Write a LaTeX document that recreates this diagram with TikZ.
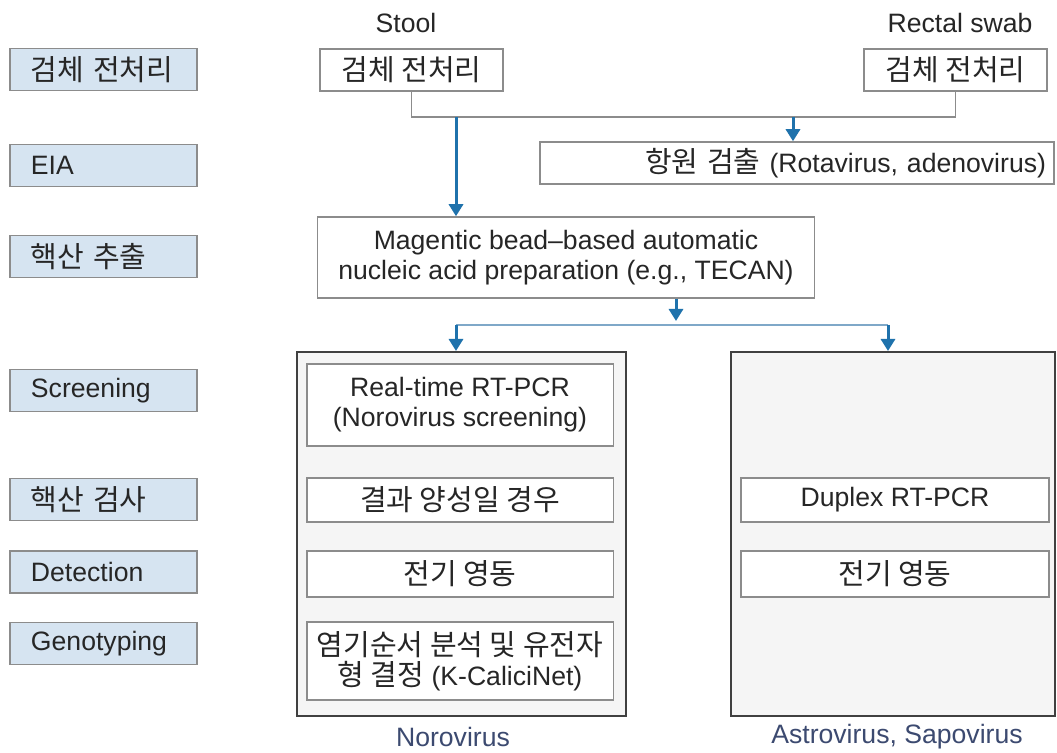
\documentclass[tikz,border=0pt]{standalone}
\usepackage{fontspec}
\setmainfont{Liberation Sans}
\newfontfamily\kr[Scale=1.09]{Noto Sans CJK KR}
\usetikzlibrary{arrows.meta,positioning}
\definecolor{stagefill}{HTML}{D6E4F1}
\definecolor{boxline}{HTML}{8C8C8C}
\definecolor{flowblue}{HTML}{1F72AC}
\definecolor{busblue}{HTML}{7FA8C8}
\definecolor{panelfill}{HTML}{F5F5F5}
\definecolor{virusname}{HTML}{3C4A70}
\tikzset{
stage/.style={
    rectangle,
    fill=stagefill,
    draw=boxline,
    line width=0.75pt,
    minimum height=21pt,
    inner xsep=10.5pt,
    text width=72.5pt,
    align=left
},
procbox/.style={
    rectangle,
    fill=white,
    draw=boxline,
    line width=0.75pt,
    inner sep=2pt,
    align=center
},
panel/.style={
    rectangle,
    fill=panelfill,
    draw=black!75,
    line width=1pt,
    minimum height=182pt
},
flow/.style={
    flowblue,line width=1.5pt,-{Triangle[width=7pt,length=6pt]}
},
bus/.style={
    boxline,line width=0.75pt
},
buslow/.style={
    busblue,line width=0.75pt
},
}

\begin{document}
\begin{tikzpicture}[x=0.5pt,y=-0.5pt,every node/.style={font=\fontsize{13.3}{15}\selectfont,text=black!85}]
\path [use as bounding box,fill=white] (0,0) rectangle (1057,753);
%
% stage labels
\node [stage] (s-prep) at (103.5,69.5) {\kr 검체 전처리};
\node [stage] (s-eia) at (103.5,165.5) {EIA};
\node [stage] (s-ext) at (103.5,256.5) {\kr 핵산 추출};
\node [stage] (s-scr) at (103.5,390.5) {Screening};
\node [stage] (s-nat) at (103.5,499.5) {\kr 핵산 검사};
\node [stage] (s-det) at (103.5,572) {Detection};
\node [stage] (s-gen) at (103.5,643.5) {Genotyping};
%
% specimens
\node (stool-lbl) at (406,23) {Stool};
\node (swab-lbl) at (960,23) {Rectal swab};
\node [procbox,minimum width=91.5pt,minimum height=21pt] (stool) at (411.5,70) {\kr 검체 전처리};
\node [procbox,minimum width=91.5pt,minimum height=21pt] (swab) at (955.5,70) {\kr 검체 전처리};
\node [procbox,minimum height=21pt,text width=249pt,inner xsep=4pt,align=right] (antigen) at (797,163) {{\kr 항원 검출} (Rotavirus, adenovirus)};
\node [procbox,minimum width=248.5pt,minimum height=40.5pt] (extract) at (566,257.5) {Magentic bead–based automatic\\nucleic acid preparation (e.g., TECAN)};
%
% virus panels
\node [panel,minimum width=164.5pt] (noro) at (461.5,534) {};
\node [panel,minimum width=162.2pt] (astro) at (892.8,534) {};
\node [procbox,minimum width=153.25pt,minimum height=41pt] (rtpcr) at (460,405) {Real-time RT-PCR\\(Norovirus screening)};
\node [procbox,minimum width=153.25pt,minimum height=22pt] (positive) at (460,500) {\kr 결과 양성일 경우};
\node [procbox,minimum width=153.25pt,minimum height=23pt] (gel1) at (460,574) {\kr 전기 영동};
\node [procbox,minimum width=153.25pt,minimum height=39pt] (seq) at (460,661) {{\kr 염기순서 분석 및 유전자}\\{\kr 형 결정} (K-CaliciNet)};
\node [procbox,minimum width=154pt,minimum height=22pt] (duplex) at (895,500) {Duplex RT-PCR};
\node [procbox,minimum width=154pt,minimum height=23pt] (gel2) at (895,574) {\kr 전기 영동};
\node [text=virusname] (noro-lbl) at (453,737) {Norovirus};
\node [text=virusname] (astro-lbl) at (897,737) {Astrovirus, Sapovirus};
%
% connectors
\coordinate (bus1-a) at (456,117);
\coordinate (bus1-b) at (793,117);
\coordinate (bus2-l) at (456,325);
\coordinate (bus2-m) at (676,325);
\coordinate (bus2-r) at (888,325);
\draw [bus] (stool.south) |- (bus1-a -| swab.south) -- (swab.south);
\draw [flow] (bus1-a) -- (bus1-a |- extract.north);
\draw [flow] (bus1-b) -- (bus1-b |- antigen.north);
\draw [buslow] (bus2-l) -- (bus2-r);
\draw [flow,shorten >=2pt] (bus2-m |- extract.south) -- (bus2-m);
\draw [flow] (bus2-l) -- (bus2-l |- noro.north);
\draw [flow] (bus2-r) -- (bus2-r |- astro.north);
%
\end{tikzpicture}
\end{document}
